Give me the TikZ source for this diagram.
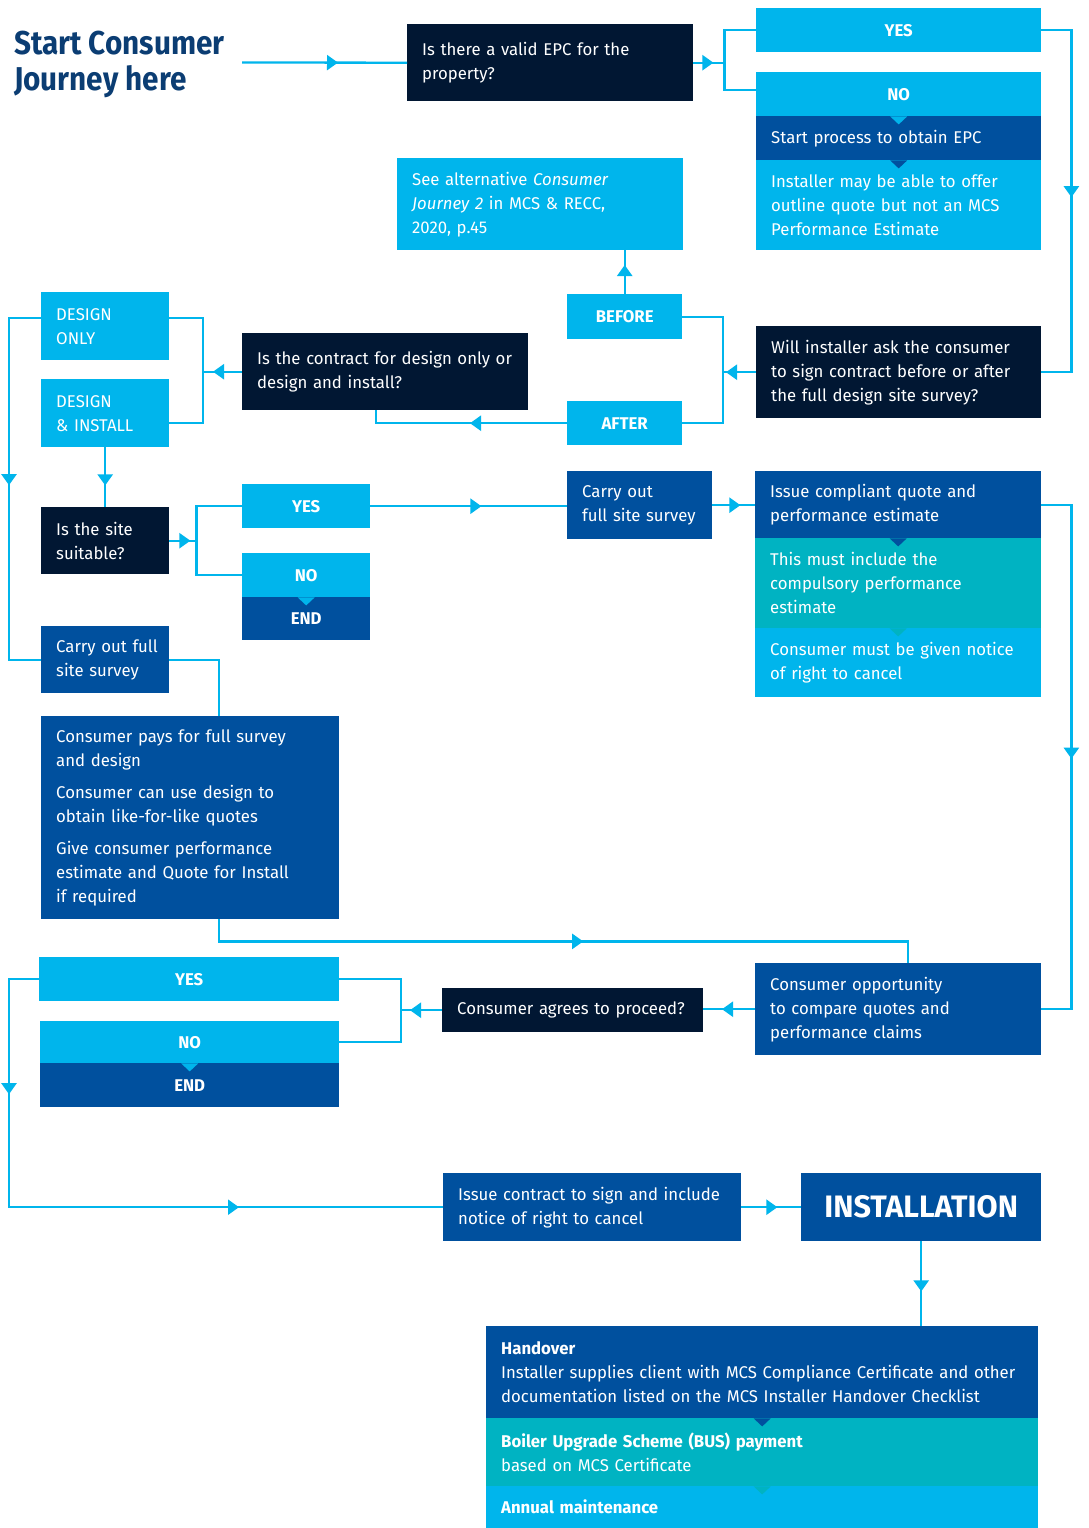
\documentclass[tikz,border=0pt]{standalone}
\usepackage{fontspec}
\setmainfont{Fira Sans}[FakeStretch=0.985]
\newfontfamily\condfont{Fira Sans}[FakeStretch=0.9]
\usetikzlibrary{arrows.meta,decorations.markings}
\definecolor{cyanc}{HTML}{00B5EC}
\definecolor{navyc}{HTML}{011733}
\definecolor{blc}{HTML}{00509E}
\definecolor{tealc}{HTML}{00B3C2}
\definecolor{titlec}{HTML}{0B3D73}
\newcommand\fs{\fontsize{17}{24}\selectfont}
\tikzset{
  base/.style={anchor=north west, inner xsep=15pt, inner ysep=0pt, align=left, font=\fs, text=white},
  dk/.style={base, fill=navyc},
  bl/.style={base, fill=blc},
  cy/.style={base, fill=cyanc},
  tl/.style={base, fill=tealc},
  lbl/.style={align=center, font=\fs\bfseries},
  conn/.style={color=cyanc, line width=2.3pt},
  arrowat/.style={postaction={decorate,decoration={markings,mark=at position #1 with {\arrow{Triangle[length=11pt,width=15pt]}}}}},
  arrowtwo/.style 2 args={postaction={decorate,decoration={markings,mark=at position #1 with {\arrow{Triangle[length=11pt,width=15pt]}},mark=at position #2 with {\arrow{Triangle[length=11pt,width=15pt]}}}}},
}
\begin{document}
\begin{tikzpicture}[x=1pt,y=-1pt]
\useasboundingbox[fill=white] (0,0) rectangle (1089,1528);

% title
\node[anchor=north west, inner sep=0pt, align=left, text=titlec, font=\condfont\fontsize{33}{36}\selectfont\bfseries] (title) at (14,31) {Start Consumer\\Journey here};
\coordinate (start) at (242,62.5);

% top row
\node[dk, text width=256pt, minimum height=77pt] (q1) at (407,24) {Is there a valid EPC for the\\property?};
\node[cy, lbl, text width=255pt, minimum height=44pt] (yes1) at (756,8) {YES};
\node[cy, lbl, text width=255pt, minimum height=44pt] (no1) at (756,72) {NO};
\node[bl, text width=255pt, minimum height=44pt] (epc) at (756,116) {Start process to obtain EPC};
\node[cy, text width=255pt, minimum height=90pt] (inst1) at (756,160) {Installer may be able to offer\\outline quote but not an MCS\\Performance Estimate};

\node[cy, text width=256pt, minimum height=92pt] (alt) at (397,158) {See alternative \textit{Consumer}\\\textit{Journey 2} in MCS \& RECC,\\2020, p.45};
\node[cy, lbl, text width=85pt, minimum height=45pt] (before) at (567,294) {BEFORE};
\node[cy, lbl, text width=85pt, minimum height=44pt] (after) at (567,401) {AFTER};
\node[dk, text width=255pt, minimum height=92pt] (will) at (756,326) {Will installer ask the consumer\\to sign contract before or after\\the full design site survey?};
\node[dk, text width=256pt, minimum height=77pt] (contract) at (242,333) {\mbox{Is the contract for design only or}\\design and install?};
\node[cy, text width=98pt, minimum height=68pt] (donly) at (41,292) {DESIGN\\ONLY};
\node[cy, text width=98pt, minimum height=68pt] (dinst) at (41,379) {DESIGN\\\& INSTALL};

% site suitable
\node[dk, text width=98pt, minimum height=67pt] (suit) at (41,507) {Is the site\\suitable?};
\node[cy, lbl, text width=98pt, minimum height=44pt] (yes2) at (242,484) {YES};
\node[cy, lbl, text width=98pt, minimum height=44pt] (no2) at (242,553) {NO};
\node[bl, lbl, text width=98pt, minimum height=43pt] (end2) at (242,597) {END};
\node[bl, text width=115pt, minimum height=68pt] (cos2) at (567,471) {Carry out\\\mbox{full site survey}};
\node[bl, text width=256pt, minimum height=67pt] (iss) at (755,471) {Issue compliant quote and\\performance estimate};
\node[tl, text width=256pt, minimum height=90pt] (must) at (755,538) {This must include the\\compulsory performance\\estimate};
\node[cy, text width=256pt, minimum height=69pt] (notice) at (755,628) {\mbox{Consumer must be given notice}\\of right to cancel};

\node[bl, text width=98pt, minimum height=67pt] (cos1) at (41,626) {\mbox{Carry out full}\\site survey};
\node[bl, text width=268pt, minimum height=203pt] (pays) at (41,716) {Consumer pays for full survey\\and design\\[8pt]Consumer can use design to\\obtain like-for-like quotes\\[8pt]Give consumer performance\\\mbox{estimate and Quote for Install}\\if required};

% agree
\node[bl, text width=256pt, minimum height=92pt] (opp) at (755,963) {Consumer opportunity\\to compare quotes and\\performance claims};
\node[dk, text width=231pt, minimum height=44pt] (agree) at (442,988) {\mbox{Consumer agrees to proceed?}};
\node[cy, lbl, text width=270pt, minimum height=44pt] (yes3) at (39,957) {YES};
\node[cy, lbl, text width=269pt, minimum height=42pt] (no3) at (40,1021) {NO};
\node[bl, lbl, text width=269pt, minimum height=44pt] (end3) at (40,1063) {END};

% bottom
\node[bl, text width=268pt, minimum height=68pt] (contract2) at (443,1173) {\mbox{Issue contract to sign and include}\\notice of right to cancel};
\node[bl, align=center, text width=210pt, minimum height=68pt, font=\fontsize{31}{34}\selectfont\bfseries] (inst) at (801,1173) {INSTALLATION};
\node[bl, text width=522pt, minimum height=92pt] (hand) at (486,1326) {\textbf{Handover}\\\mbox{Installer supplies client with MCS Compliance Certificate and other}\\documentation listed on the MCS Installer Handover Checklist};
\node[tl, text width=522pt, minimum height=68pt] (bus) at (486,1418) {\textbf{Boiler Upgrade Scheme (BUS) payment}\\based on MCS Certificate};
\node[cy, text width=522pt, minimum height=42pt] (annual) at (486,1486) {\textbf{Annual maintenance}};

% notches
\fill[cyanc] (no1.south) ++(-8.5,0) -- ++(17,0) -- ++(-8.5,8) -- cycle;
\fill[blc] (epc.south) ++(-8.5,0) -- ++(17,0) -- ++(-8.5,8) -- cycle;
\fill[cyanc] (no2.south) ++(-8.5,0) -- ++(17,0) -- ++(-8.5,8) -- cycle;
\fill[blc] (iss.south) ++(-8.5,0) -- ++(17,0) -- ++(-8.5,8) -- cycle;
\fill[tealc] (must.south) ++(-8.5,0) -- ++(17,0) -- ++(-8.5,8) -- cycle;
\fill[cyanc] (no3.south) ++(-8.5,0) -- ++(17,0) -- ++(-8.5,8) -- cycle;
\fill[blc] (hand.south) ++(-8.5,0) -- ++(17,0) -- ++(-8.5,8) -- cycle;
\fill[tealc] (bus.south) ++(-8.5,0) -- ++(17,0) -- ++(-8.5,8) -- cycle;

% branch points
\coordinate (b1) at ([xshift=31pt]q1.east);
\coordinate (b2) at ([xshift=-33pt]will.west);
\coordinate (b4) at ([xshift=-39pt]contract.west);
\coordinate (b6) at ([xshift=27pt]suit.east);
\coordinate (b5) at ([xshift=-41pt]agree.west);

% connectors
\draw[conn, arrowat=96pt] (start) -- (q1.west);
\draw[conn, arrowat=20pt] (q1.east) -- (b1);
\draw[conn] (yes1.west) -| (b1) |- ([yshift=4pt]no1.west);
\draw[conn, arrowat=197pt] (yes1.east) -- ++(30,0) |- (will.east);
\draw[conn, arrowat=30pt] (will.west) -- (b2);
\draw[conn] (before.east) -| (b2) |- (after.east);
\draw[conn, arrowat=29pt] (before.north) -- (before.north |- alt.south);
\draw[conn, arrowat=97pt] (after.west) -| ([xshift=-9pt]contract.south);
\draw[conn, arrowat=29pt] (contract.west) -- (b4);
\draw[conn] ([yshift=8pt]donly.east) -| (b4) |- ([yshift=-10pt]dinst.east);
\draw[conn, arrowat=199pt] ([yshift=8pt]donly.west) -- ++(-32,0) |- (cos1.west);
\draw[conn, arrowat=38pt] (dinst.south) -- (suit.north);
\draw[conn, arrowat=21pt] (suit.east) -- (b6);
\draw[conn] (yes2.west) -| (b6) |- (no2.west);
\draw[conn, arrowat=111pt] (yes2.east) -- (yes2.east -| cos2.west);
\draw[conn, arrowat=28pt] (cos2.east) -- (cos2.east -| iss.west);
\draw[conn, arrowat=284pt] (iss.east) -- ++(30,0) |- (opp.east);
\draw[conn] (cos1.east) -| ([xshift=29pt]pays.north);
\draw[conn, arrowat=386pt] ([xshift=29pt]pays.south) -- ++(0,22) -| ([xshift=10pt]opp.north);
\draw[conn, arrowat=33pt] (opp.west) -- (opp.west -| agree.east);
\draw[conn, arrowat=32pt] (agree.west) -- (b5);
\draw[conn] (yes3.east) -| (b5) |- (no3.east);
\draw[conn, arrowtwo={145pt}{488pt}] (yes3.west) -- ++(-30,0) |- (contract2.west);
\draw[conn, arrowat=36pt] (contract2.east) -- (inst.west);
\draw[conn, arrowat=50pt] (inst.south) -- (inst.south |- hand.north);
\end{tikzpicture}
\end{document}
